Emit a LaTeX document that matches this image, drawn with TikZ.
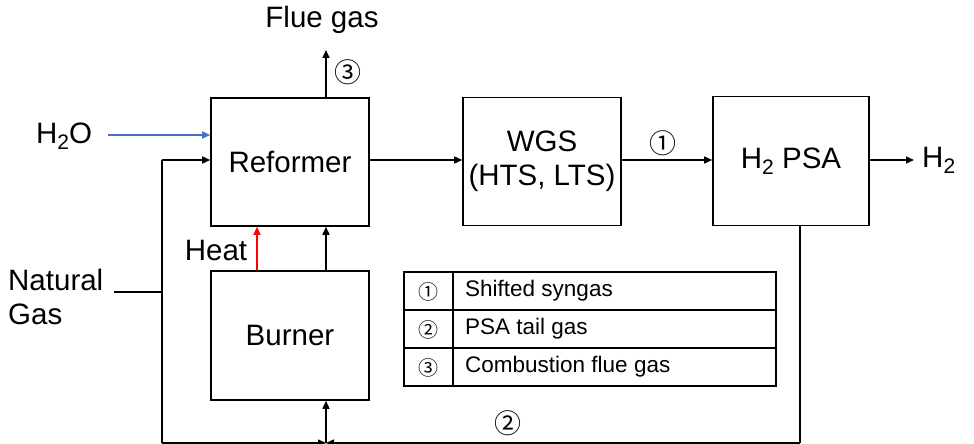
\documentclass[tikz,border=0pt]{standalone}
\usepackage{fontspec}
\setmainfont{Liberation Sans}
\newfontfamily\symfont{Noto Sans CJK JP}
\usetikzlibrary{arrows.meta}
\newcommand\lowtwo{\raisebox{-6pt}{\fontsize{21}{21}\selectfont 2}}
\begin{document}
\begin{tikzpicture}[x=1pt,y=-1pt,
  box/.style={draw,line width=1.6pt,minimum width=158pt,inner sep=0pt,font=\fontsize{29.5}{34}\selectfont,align=center},
  lbl/.style={font=\fontsize{29.5}{34}\selectfont,inner sep=0pt},
  circ/.style={font=\symfont\fontsize{27}{27}\selectfont,inner sep=0pt},
  tcirc/.style={font=\symfont\fontsize{20}{20}\selectfont,inner sep=0pt},
  ttxt/.style={font=\fontsize{22.5}{24}\selectfont,inner sep=0pt,anchor=west},
  flow/.style={line width=1.5pt,-{Triangle[length=8pt,width=7pt]}},
  pipe/.style={line width=1.5pt}]
\useasboundingbox (0,0) rectangle (974,444);
% boxes
\node[box,minimum height=128pt] (ref) at (290,162) {Reformer};
\node[box,minimum height=128pt] (wgs) at (542,161.5) {WGS\\(HTS, LTS)};
\node[box,minimum height=129pt,minimum width=156pt] (psa) at (791,161) {H\lowtwo\ PSA};
\node[box,minimum height=129pt] (bur) at (290,335.5) {Burner};
% labels
\node[lbl] (flue) at (322,20) {Flue gas};
\node[lbl] (h2o) at (64,136) {H\lowtwo O};
\node[lbl,align=left,anchor=west] (ng) at (8,297) {Natural\\Gas};
\node[lbl] (heat) at (216,250) {Heat};
\node[lbl,anchor=west] (h2) at (922,160) {H\lowtwo};
\node[circ] (c3) at (348,72) {③};
\node[circ] (c1) at (663,143) {①};
\node[circ] (c2) at (508,423) {②};
% coordinates
\coordinate (fluetop) at (326,50);
\coordinate (h2ostart) at (108,135);
\coordinate (ngend) at (114,292);
\coordinate (ngjoin) at (162,292);
\coordinate (ngtop) at (162,160);
\coordinate (ngbot) at (162,443);
\coordinate (junc) at (326,443);
\coordinate (psabot) at (800,443);
\coordinate (h2end) at (914,160);
% connectors
\draw[flow] (ref.north -| fluetop) -- (fluetop);
\draw[flow,draw={rgb,255:red,68;green,114;blue,196},fill={rgb,255:red,68;green,114;blue,196}] (h2ostart) -- (h2ostart -| ref.west);
\draw[flow] (ngtop) -- (ngtop -| ref.west);
\draw[pipe] (ngtop) -- (ngbot);
\draw[pipe] (ngend) -- (ngjoin);
\draw[flow] (ngbot) -- (junc);
\draw[flow] (psabot) -- (junc);
\draw[pipe] (psa.south -| psabot) -- (psabot);
\draw[flow] (junc) -- (junc |- bur.south);
\draw[flow,red] (bur.north -| 257,0) -- (ref.south -| 257,0);
\draw[flow] (bur.north -| junc) -- (ref.south -| junc);
\draw[flow] (ref.east |- 0,160) -- (wgs.west |- 0,160);
\draw[flow] (wgs.east |- 0,160) -- (psa.west |- 0,160);
\draw[flow] (psa.east |- 0,160) -- (h2end);
% table
\draw[line width=1.2pt] (404,272) rectangle (776,386);
\draw[line width=1.2pt] (404,310) -- (776,310) (404,348) -- (776,348) (453,272) -- (453,386);
\node[tcirc] (t1) at (428,292) {①};
\node[tcirc] (t2) at (428,330) {②};
\node[tcirc] (t3) at (428,368) {③};
\node[ttxt] (s1) at (465,291) {Shifted syngas};
\node[ttxt] (s2) at (465,329) {PSA tail gas};
\node[ttxt] (s3) at (465,367) {Combustion flue gas};
\end{tikzpicture}
\end{document}
